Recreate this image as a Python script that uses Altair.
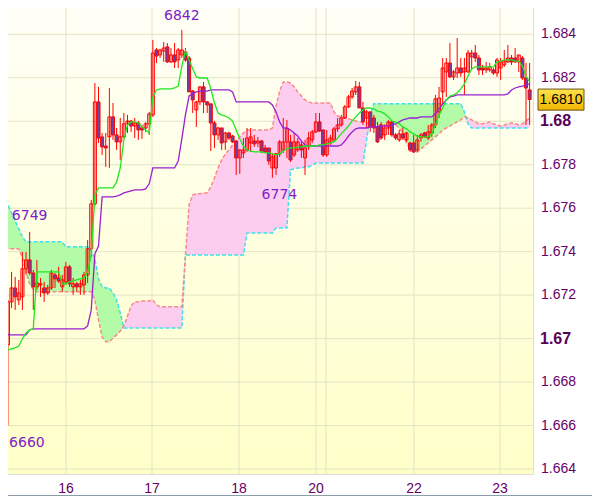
import altair as alt
import pandas as pd
import numpy as np

# ---------------- data (hourly bars) ----------------
opens = [1.66939,1.66971,1.67169,1.67233,1.67178,1.67192,1.67321,1.67362,1.67302,1.67238,
         1.67247,1.67233,1.67210,1.67233,1.67293,1.67279,1.67238,1.67261,1.67330,1.67238,
         1.67252,1.67238,1.67247,1.67293,1.67413,1.67620,1.68089,1.67928,1.67886,1.67928,
         1.68020,1.67937,1.67905,1.67928,1.67988,1.68001,1.67978,1.67992,1.67969,1.67969,
         1.67988,1.68029,1.68328,1.68305,1.68323,1.68342,1.68273,1.68305,1.68282,1.68305,
         1.68319,1.68291,1.68139,1.68052,1.68089,1.68158,1.68089,1.68080,1.67992,1.67937,
         1.67969,1.67905,1.67946,1.67932,1.67909,1.67831,1.67854,1.67868,1.67900,1.67909,
         1.67900,1.67909,1.67877,1.67877,1.67785,1.67785,1.67850,1.67868,1.67905,1.67905,
         1.67845,1.67868,1.67891,1.67831,1.67882,1.67914,1.67951,1.67997,1.67960,1.67845,
         1.67900,1.67914,1.67965,1.67983,1.68015,1.68066,1.68112,1.68135,1.68158,1.68061,
         1.68015,1.68043,1.68015,1.67974,1.67983,1.67937,1.67969,1.67997,1.67937,1.67914,
         1.67942,1.67914,1.67900,1.67900,1.67868,1.67923,1.67946,1.67923,1.67946,1.67983,
         1.68043,1.68135,1.68227,1.68268,1.68204,1.68222,1.68245,1.68227,1.68227,1.68296,
         1.68314,1.68291,1.68245,1.68236,1.68236,1.68236,1.68222,1.68245,1.68259,1.68273,
         1.68291,1.68291,1.68273,1.68291,1.68199,1.68144]
highs = [1.67054,1.67178,1.67307,1.67284,1.67270,1.67399,1.67399,1.67491,1.67316,1.67362,
         1.67279,1.67261,1.67247,1.67316,1.67302,1.67330,1.67293,1.67353,1.67339,1.67279,
         1.67261,1.67270,1.67307,1.67454,1.67638,1.68176,1.68158,1.67946,1.67946,1.68153,
         1.68084,1.67969,1.68015,1.68038,1.68029,1.68006,1.68015,1.68001,1.67983,1.67997,
         1.68043,1.68374,1.68337,1.68333,1.68365,1.68360,1.68337,1.68360,1.68337,1.68420,
         1.68337,1.68300,1.68144,1.68093,1.68162,1.68181,1.68093,1.68080,1.68001,1.67974,
         1.67969,1.67951,1.67951,1.67937,1.67914,1.67873,1.67923,1.67969,1.67969,1.67937,
         1.67928,1.67914,1.67891,1.67877,1.67854,1.67854,1.67914,1.68015,1.68006,1.67937,
         1.67946,1.67923,1.67905,1.67914,1.67951,1.67960,1.68038,1.68038,1.67960,1.67960,
         1.67937,1.67974,1.68015,1.68029,1.68075,1.68121,1.68153,1.68185,1.68181,1.68089,
         1.68052,1.68043,1.68029,1.67997,1.67997,1.67983,1.68006,1.68001,1.67946,1.67960,
         1.67974,1.67951,1.67905,1.67937,1.67937,1.67946,1.67951,1.67983,1.67992,1.68121,
         1.68158,1.68291,1.68291,1.68360,1.68236,1.68383,1.68291,1.68291,1.68328,1.68328,
         1.68351,1.68305,1.68259,1.68273,1.68268,1.68245,1.68291,1.68291,1.68328,1.68351,
         1.68305,1.68337,1.68305,1.68300,1.68268,1.68268]
lows = [1.66842,1.66600,1.67141,1.67132,1.67155,1.67132,1.67293,1.67293,1.67132,1.67224,
        1.67192,1.67169,1.67201,1.67224,1.67233,1.67256,1.67215,1.67247,1.67238,1.67201,
        1.67215,1.67201,1.67201,1.67256,1.67376,1.67610,1.67900,1.67845,1.67790,1.67785,
        1.67914,1.67868,1.67822,1.67923,1.67946,1.67951,1.67923,1.67914,1.67919,1.67951,
        1.67937,1.68020,1.68268,1.68291,1.68273,1.68268,1.68268,1.68245,1.68245,1.68291,
        1.68273,1.68135,1.68038,1.67974,1.68075,1.68038,1.68038,1.67863,1.67877,1.67914,
        1.67868,1.67868,1.67914,1.67900,1.67753,1.67758,1.67831,1.67859,1.67859,1.67882,
        1.67882,1.67854,1.67854,1.67799,1.67740,1.67753,1.67836,1.67854,1.67831,1.67813,
        1.67836,1.67859,1.67831,1.67753,1.67868,1.67900,1.67946,1.67951,1.67836,1.67836,
        1.67891,1.67905,1.67951,1.67974,1.68011,1.68061,1.68103,1.68121,1.68061,1.67983,
        1.67969,1.67951,1.67946,1.67900,1.67914,1.67914,1.67937,1.67928,1.67914,1.67905,
        1.67914,1.67905,1.67859,1.67854,1.67859,1.67905,1.67923,1.67914,1.67928,1.67969,
        1.68015,1.68075,1.68112,1.68199,1.68190,1.68199,1.68204,1.68121,1.68222,1.68236,
        1.68273,1.68213,1.68213,1.68222,1.68227,1.68213,1.68204,1.68190,1.68250,1.68268,
        1.68259,1.68268,1.68227,1.68190,1.67983,1.67983]
closes = [1.66971,1.67169,1.67233,1.67192,1.67210,1.67321,1.67362,1.67302,1.67238,1.67256,
          1.67252,1.67210,1.67233,1.67302,1.67275,1.67265,1.67270,1.67330,1.67252,1.67252,
          1.67238,1.67252,1.67293,1.67413,1.67620,1.68089,1.67923,1.67882,1.67877,1.68020,
          1.67937,1.67905,1.67928,1.67988,1.68001,1.67978,1.67992,1.67960,1.67960,1.67988,
          1.68034,1.68314,1.68300,1.68328,1.68337,1.68273,1.68305,1.68273,1.68328,1.68328,
          1.68282,1.68135,1.68098,1.68089,1.68158,1.68089,1.68075,1.67992,1.67937,1.67969,
          1.67900,1.67946,1.67923,1.67905,1.67831,1.67868,1.67868,1.67923,1.67928,1.67896,
          1.67909,1.67863,1.67859,1.67817,1.67836,1.67850,1.67905,1.67905,1.67965,1.67822,
          1.67905,1.67905,1.67868,1.67877,1.67923,1.67951,1.67997,1.67955,1.67845,1.67914,
          1.67923,1.67965,1.67983,1.68015,1.68066,1.68112,1.68139,1.68158,1.68061,1.67997,
          1.68043,1.67974,1.67969,1.67905,1.67923,1.67969,1.67997,1.67937,1.67923,1.67942,
          1.67923,1.67946,1.67868,1.67859,1.67914,1.67937,1.67928,1.67951,1.67983,1.68103,
          1.68107,1.68245,1.68268,1.68204,1.68227,1.68245,1.68222,1.68245,1.68314,1.68314,
          1.68291,1.68236,1.68236,1.68245,1.68250,1.68222,1.68282,1.68273,1.68277,1.68291,
          1.68273,1.68273,1.68305,1.68199,1.68153,1.68100]
tenkan = [1.67077,1.66948,1.66953,1.66957,1.66966,1.66999,1.67026,1.67040,1.67045,1.67307,
          1.67307,1.67307,1.67307,1.67307,1.67307,1.67307,1.67252,1.67252,1.67261,1.67265,
          1.67270,1.67275,1.67279,1.67307,1.67385,1.67661,1.67693,1.67693,1.67693,1.67693,
          1.67693,1.67721,1.67785,1.67914,1.67983,1.67997,1.67997,1.67992,1.67974,1.67960,
          1.67946,1.68112,1.68144,1.68149,1.68149,1.68149,1.68149,1.68153,1.68162,1.68254,
          1.68323,1.68282,1.68241,1.68204,1.68199,1.68199,1.68199,1.68149,1.68084,1.68038,
          1.68029,1.68024,1.68015,1.68001,1.67960,1.67919,1.67886,1.67868,1.67863,1.67859,
          1.67859,1.67859,1.67854,1.67854,1.67850,1.67845,1.67850,1.67863,1.67873,1.67877,
          1.67877,1.67882,1.67882,1.67886,1.67886,1.67886,1.67886,1.67891,1.67891,1.67896,
          1.67900,1.67905,1.67923,1.67942,1.67960,1.67978,1.68001,1.68020,1.68038,1.68052,
          1.68061,1.68061,1.68057,1.68047,1.68043,1.68034,1.68020,1.68001,1.67997,1.67988,
          1.67974,1.67965,1.67951,1.67942,1.67932,1.67928,1.67928,1.67928,1.67942,1.67983,
          1.68029,1.68061,1.68098,1.68116,1.68121,1.68130,1.68149,1.68172,1.68208,1.68241,
          1.68250,1.68250,1.68250,1.68250,1.68250,1.68250,1.68273,1.68277,1.68282,1.68282,
          1.68282,1.68277,1.68277,1.68254,1.68208,1.68181]
kijun = [1.67068,1.67017,1.67017,1.67017,1.67017,1.67017,1.67017,1.67040,1.67045,1.67045,
         1.67045,1.67045,1.67045,1.67045,1.67045,1.67045,1.67045,1.67045,1.67045,1.67045,
         1.67045,1.67045,1.67045,1.67058,1.67132,1.67390,1.67426,1.67652,1.67652,1.67652,
         1.67652,1.67656,1.67661,1.67670,1.67675,1.67680,1.67684,1.67684,1.67684,1.67689,
         1.67712,1.67785,1.67785,1.67785,1.67785,1.67785,1.67785,1.67785,1.67817,1.67919,
         1.68029,1.68116,1.68126,1.68135,1.68139,1.68139,1.68139,1.68144,1.68144,1.68144,
         1.68144,1.68144,1.68144,1.68135,1.68089,1.68089,1.68089,1.68089,1.68089,1.68089,
         1.68089,1.68089,1.68089,1.68089,1.68075,1.68043,1.67997,1.67969,1.67969,1.67960,
         1.67946,1.67932,1.67909,1.67891,1.67886,1.67886,1.67886,1.67886,1.67886,1.67886,
         1.67886,1.67886,1.67886,1.67891,1.67909,1.67932,1.67951,1.67965,1.67969,1.67969,
         1.67969,1.67974,1.67974,1.67974,1.67978,1.67978,1.67978,1.67983,1.67988,1.67997,
         1.68006,1.68011,1.68015,1.68015,1.68015,1.68020,1.68020,1.68020,1.68020,1.68034,
         1.68057,1.68080,1.68098,1.68112,1.68116,1.68121,1.68121,1.68121,1.68121,1.68121,
         1.68121,1.68121,1.68121,1.68121,1.68121,1.68121,1.68121,1.68121,1.68121,1.68126,
         1.68144,1.68153,1.68158,1.68162,1.68167,1.68172]
span_a = [1.67633,1.67615,1.67578,1.67541,1.67505,1.67468,1.67445,1.67445,1.67445,1.67445,
          1.67445,1.67445,1.67445,1.67445,1.67445,1.67445,1.67445,1.67422,1.67422,1.67422,
          1.67422,1.67422,1.67422,1.67422,1.67403,1.67367,1.67275,1.67238,1.67233,1.67233,
          1.67210,1.67178,1.67118,1.67049,1.67049,1.67049,1.67049,1.67049,1.67049,1.67049,
          1.67049,1.67049,1.67049,1.67049,1.67049,1.67049,1.67049,1.67049,1.67049,1.67049,
          1.67385,1.67385,1.67385,1.67385,1.67385,1.67385,1.67385,1.67385,1.67385,1.67385,
          1.67385,1.67385,1.67385,1.67385,1.67385,1.67385,1.67385,1.67486,1.67486,1.67486,
          1.67486,1.67486,1.67486,1.67486,1.67486,1.67509,1.67509,1.67509,1.67509,1.67776,
          1.67781,1.67785,1.67785,1.67790,1.67790,1.67799,1.67808,1.67808,1.67808,1.67808,
          1.67808,1.67808,1.67808,1.67808,1.67808,1.67808,1.67808,1.67808,1.67808,1.67808,
          1.67914,1.68029,1.68080,1.68080,1.68080,1.68080,1.68080,1.68080,1.68080,1.68080,
          1.68080,1.68080,1.68080,1.68080,1.68080,1.68080,1.68080,1.68080,1.68080,1.68080,
          1.68080,1.68080,1.68080,1.68080,1.68080,1.68080,1.68080,1.68043,1.67988,1.67969,
          1.67969,1.67969,1.67969,1.67969,1.67969,1.67969,1.67969,1.67969,1.67969,1.67969,
          1.67969,1.67969,1.67969,1.67969,1.67969,1.67969]
span_b = [1.67413,1.67413,1.67413,1.67413,1.67413,1.67371,1.67307,1.67252,1.67224,1.67215,
          1.67215,1.67215,1.67215,1.67215,1.67215,1.67215,1.67215,1.67215,1.67215,1.67215,
          1.67215,1.67215,1.67215,1.67215,1.67215,1.67178,1.67086,1.67008,1.66985,1.66985,
          1.67003,1.67017,1.67035,1.67058,1.67104,1.67150,1.67169,1.67169,1.67173,1.67173,
          1.67173,1.67178,1.67155,1.67146,1.67146,1.67146,1.67146,1.67146,1.67146,1.67146,
          1.67385,1.67615,1.67661,1.67666,1.67666,1.67670,1.67670,1.67698,1.67739,1.67785,
          1.67822,1.67850,1.67868,1.67891,1.67909,1.67928,1.67946,1.67960,1.67960,1.67960,
          1.67960,1.67960,1.67960,1.67960,1.67969,1.68070,1.68139,1.68181,1.68181,1.68176,
          1.68158,1.68135,1.68116,1.68098,1.68089,1.68084,1.68084,1.68084,1.68084,1.68084,
          1.68084,1.68043,1.68024,1.68020,1.68015,1.68011,1.68006,1.68001,1.67997,1.67997,
          1.67992,1.67988,1.67983,1.67983,1.67983,1.67983,1.67983,1.67983,1.67983,1.67969,
          1.67942,1.67900,1.67873,1.67859,1.67859,1.67873,1.67886,1.67900,1.67914,1.67928,
          1.67942,1.67960,1.67969,1.67978,1.67988,1.67997,1.68006,1.68020,1.68015,1.68006,
          1.67997,1.67988,1.67988,1.67992,1.67997,1.67988,1.67983,1.67978,1.67983,1.67988,
          1.67992,1.67988,1.67983,1.67988,1.68001,1.68015]

# day boundaries (bar positions) and their labels
day_ticks = [17.03, 40.77, 64.78, 86.03, 113.08, 136.82]
day_labels = ["16", "17", "18", "20", "22", "23"]
vgrid_pos = [17.03, 40.77, 64.78, 86.03, 88.79, 113.08, 136.82]

# price axis
minor_ticks = [1.664, 1.665, 1.666, 1.667, 1.668, 1.669, 1.670, 1.671, 1.672, 1.673, 1.674,
               1.675, 1.676, 1.677, 1.678, 1.679, 1.680, 1.681, 1.682, 1.683, 1.684, 1.685]
grid_prices = [1.664, 1.666, 1.668, 1.670, 1.672, 1.674, 1.676, 1.678, 1.680, 1.682, 1.684]
label_prices = [1.664, 1.666, 1.668, 1.672, 1.674, 1.676, 1.678, 1.682, 1.684]
label_texts = ["1.664", "1.666", "1.668", "1.672", "1.674", "1.676", "1.678", "1.682", "1.684"]
bold_prices = [1.67, 1.68]
bold_texts = ["1.67", "1.68"]

# extreme annotations: text, bar, price, vertical offset, horizontal offset
ext_text = ["6842", "6749", "6774", "6660"]
ext_bar = [49, 7, 74, 1]
ext_price = [1.6842, 1.6749, 1.6774, 1.6660]
ext_dy = [-14, -16, 17, 17]
ext_dx = [0, 0, 7, 19]

# ---------------- styling ----------------
W, H = 525, 466
GRID = "#e3e3c6"
AX = "#8d9cad"
CYAN = "#3fe0ee"
SALMON = "#f98a8a"
GREEN_FILL = "#b3fba6"
PINK_FILL = "#fdcdf0"
TENKAN_C = "#1ee81e"
KIJUN_C = "#9a1fd0"
DOWN_FILL = "#7040a0"
LABEL_C = "#660066"
EXT_C = "#8020c8"

n = len(closes)
df = pd.DataFrame({"i": np.arange(n), "open": opens, "high": highs, "low": lows, "close": closes,
                   "tenkan": tenkan, "kijun": kijun, "span_a": span_a, "span_b": span_b})
df["body_lo"] = df[["open", "close"]].min(axis=1)
df["body_hi"] = df[["open", "close"]].max(axis=1)
df["xl"] = df["i"] - 0.42
df["xr"] = df["i"] + 0.42
df["dir"] = np.where(df["close"] >= df["open"], "up", "down")
df["cloud_lo"] = np.minimum(df["span_a"], df["span_b"])

xs = alt.Scale(domain=[1.02, 145.93], nice=False, zero=False)
ys = alt.Scale(domain=[1.66377, 1.68521], nice=False, zero=False)

base = alt.Chart(df)
one = pd.DataFrame({"k": [0]})

bg = alt.Chart(one).mark_rect(
    fill=alt.Gradient(gradient="linear",
                      stops=[alt.GradientStop(color="#fffff7", offset=0),
                             alt.GradientStop(color="#ffffc8", offset=1)],
                      x1=0, x2=0, y1=0, y2=1)
).encode(x=alt.value(0), x2=alt.value(W), y=alt.value(0), y2=alt.value(H))

# outer frame of the picture (bottom edge)
frame_b = alt.Chart(one).mark_rule(color=AX, strokeWidth=1).encode(
    x=alt.value(0), x2=alt.value(W + 59), y=alt.value(H + 21.5))

# grid layers carry the axes (ticks + domain lines)
hgrid = alt.Chart(pd.DataFrame({"p": grid_prices})).mark_rule(color=GRID, strokeWidth=1).encode(
    y=alt.Y("p:Q", scale=ys, axis=alt.Axis(
        orient="right", values=minor_ticks, labels=False, grid=False, title=None,
        domainColor=AX, tickColor=AX, tickSize=4)))
vgrid = alt.Chart(pd.DataFrame({"g": vgrid_pos})).mark_rule(color=GRID, strokeWidth=1).encode(
    x=alt.X("g:Q", scale=xs, axis=alt.Axis(
        orient="bottom", values=day_ticks, labels=False, grid=False, title=None,
        domainColor=AX, tickColor=AX, tickSize=5)))

green = base.mark_area(color=GREEN_FILL, clip=True, orient="vertical").encode(
    x=alt.X("i:Q", scale=xs, axis=None), y=alt.Y("span_a:Q", scale=ys, axis=None), y2="cloud_lo")
pink = base.mark_area(color=PINK_FILL, clip=True, orient="vertical").encode(
    x=alt.X("i:Q", scale=xs, axis=None), y=alt.Y("span_b:Q", scale=ys, axis=None), y2="cloud_lo")

line_a = base.mark_line(color=CYAN, strokeDash=[4, 2], strokeWidth=1.5, clip=True).encode(
    x=alt.X("i:Q", scale=xs, axis=None), y=alt.Y("span_a:Q", scale=ys, axis=None))
line_b = base.mark_line(color=SALMON, strokeDash=[4, 2], strokeWidth=1.5, clip=True).encode(
    x=alt.X("i:Q", scale=xs, axis=None), y=alt.Y("span_b:Q", scale=ys, axis=None))

wicks = base.mark_rule(color="#ff0000", strokeWidth=1, clip=True).encode(
    x=alt.X("i:Q", scale=xs, axis=None),
    y=alt.Y("low:Q", scale=ys, axis=None),
    y2="high")

bodies = base.mark_rect(stroke="#ff0000", strokeWidth=1, clip=True).encode(
    x=alt.X("xl:Q", scale=xs, axis=None), x2="xr",
    y=alt.Y("body_lo:Q", scale=ys, axis=None), y2="body_hi",
    fill=alt.Fill("dir:N", scale=alt.Scale(domain=["up", "down"], range=["transparent", DOWN_FILL]),
                  legend=None))

kij = base.mark_line(color=KIJUN_C, strokeWidth=1.3, clip=True).encode(
    x=alt.X("i:Q", scale=xs, axis=None), y=alt.Y("kijun:Q", scale=ys, axis=None))
ten = base.mark_line(color=TENKAN_C, strokeWidth=1.3, clip=True).encode(
    x=alt.X("i:Q", scale=xs, axis=None), y=alt.Y("tenkan:Q", scale=ys, axis=None))

xlab = alt.Chart(pd.DataFrame({"d": day_ticks, "t": day_labels})).mark_text(
    align="center", baseline="alphabetic", font="Liberation Sans", fontSize=14, color=LABEL_C).encode(
    x=alt.X("d:Q", scale=xs, axis=None), y=alt.value(H + 19), text="t:N")

ylab = alt.Chart(pd.DataFrame({"p": label_prices, "t": label_texts})).mark_text(
    align="left", baseline="middle", font="Liberation Sans", fontSize=14, color=LABEL_C).encode(
    x=alt.value(W + 8), y=alt.Y("p:Q", scale=ys, axis=None), text="t:N")
ybold = alt.Chart(pd.DataFrame({"p": bold_prices, "t": bold_texts})).mark_text(
    align="left", baseline="middle", font="Liberation Sans", fontSize=16, fontWeight="bold",
    color="#5a005a").encode(
    x=alt.value(W + 7), y=alt.Y("p:Q", scale=ys, axis=None), text="t:N")

last = closes[-1]
box_df = pd.DataFrame({"top": [last + 0.00048], "bot": [last - 0.00049], "p": [last],
                       "t": ["%.4f" % last]})
box = alt.Chart(box_df).mark_rect(
    fill=alt.Gradient(gradient="linear",
                      stops=[alt.GradientStop(color="#ffe24a", offset=0),
                             alt.GradientStop(color="#f2b600", offset=1)],
                      x1=0, x2=0, y1=0, y2=1),
    stroke="#6b5520", strokeWidth=1).encode(
    x=alt.value(W + 5), x2=alt.value(W + 51), y=alt.Y("top:Q", scale=ys, axis=None), y2="bot")
box_txt = alt.Chart(box_df).mark_text(
    align="center", baseline="middle", font="Liberation Sans", fontSize=14, color="#000000").encode(
    x=alt.value(W + 28), y=alt.Y("p:Q", scale=ys, axis=None), text="t:N")

ext_layers = []
for t, b, p, dy, dx in zip(ext_text, ext_bar, ext_price, ext_dy, ext_dx):
    ext_layers.append(
        alt.Chart(pd.DataFrame({"i": [b], "p": [p], "t": [t]})).mark_text(
            align="center", baseline="middle", font="DejaVu Sans", fontSize=14, color=EXT_C,
            dy=dy, dx=dx).encode(
            x=alt.X("i:Q", scale=xs, axis=None), y=alt.Y("p:Q", scale=ys, axis=None), text="t:N"))

chart = alt.layer(bg, vgrid, hgrid, green, pink, line_a, line_b, wicks, bodies, kij, ten,
                  xlab, ylab, ybold, box, box_txt, frame_b, *ext_layers).properties(
    width=W, height=H,
    autosize=alt.AutoSizeParams(type="none"),
    padding={"left": 0, "top": 0, "right": 59, "bottom": 23},
).configure_view(strokeWidth=0).configure(background="white")

chart.save("out.html", embed_options={"renderer": "svg", "actions": False})
